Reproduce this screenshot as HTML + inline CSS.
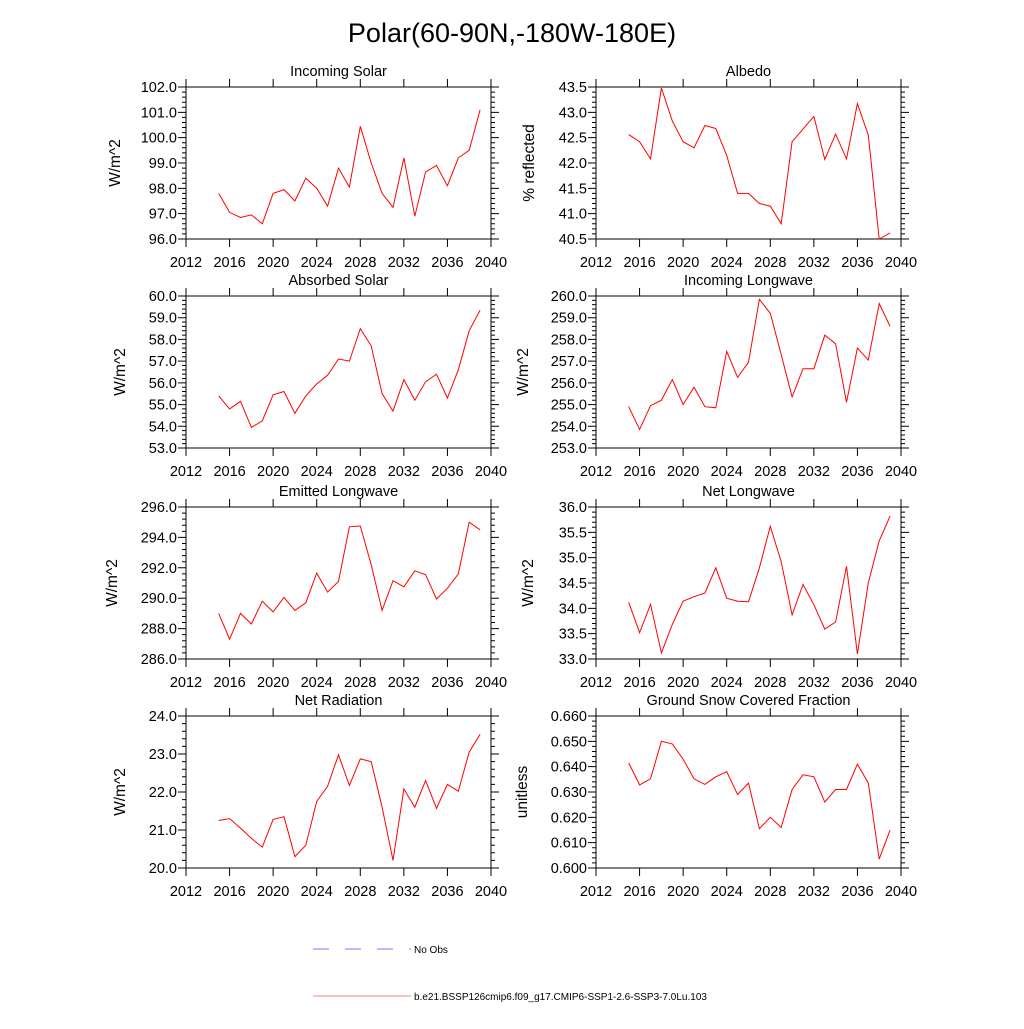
<!DOCTYPE html>
<html><head><meta charset="utf-8"><style>
body{margin:0;background:#fff}
svg text{font-family:"Liberation Sans",sans-serif;fill:#000}
</style></head><body>
<svg id="c" width="1024" height="1024" viewBox="0 0 1024 1024" xmlns="http://www.w3.org/2000/svg">
<text x="512" y="42" font-size="27" text-anchor="middle">Polar(60-90N,-180W-180E)</text>
<g>
<line x1="313" y1="949" x2="411" y2="949" stroke="#7777ff" stroke-width="1" stroke-dasharray="16,16"/>
<text x="414" y="953" font-size="10">No Obs</text>
<line x1="313" y1="996" x2="411" y2="996" stroke="#ff8080" stroke-width="1"/>
<text x="414" y="1000" font-size="10">b.e21.BSSP126cmip6.f09_g17.CMIP6-SSP1-2.6-SSP3-7.0Lu.103</text>
</g>
</svg>
<script>
const years=[2015,2016,2017,2018,2019,2020,2021,2022,2023,2024,2025,2026,2027,2028,2029,2030,2031,2032,2033,2034,2035,2036,2037,2038,2039];
const xTicks=[2012,2016,2020,2024,2028,2032,2036,2040];
const incomingSolar=[97.8,97.05,96.85,96.95,96.6,97.8,97.95,97.5,98.4,98.0,97.3,98.8,98.05,100.45,99.0,97.8,97.25,99.2,96.9,98.65,98.9,98.1,99.2,99.5,101.1];
const albedo=[42.56,42.42,42.08,43.48,42.83,42.42,42.3,42.74,42.68,42.15,41.4,41.4,41.2,41.15,40.8,42.42,42.67,42.92,42.07,42.57,42.08,43.17,42.55,40.5,40.62];
const absorbedSolar=[55.4,54.8,55.15,53.95,54.25,55.45,55.6,54.6,55.4,55.95,56.35,57.1,57.0,58.5,57.7,55.5,54.7,56.15,55.2,56.05,56.4,55.3,56.6,58.4,59.35];
const incomingLW=[254.9,253.85,254.95,255.2,256.15,255.0,255.8,254.9,254.85,257.45,256.25,256.95,259.85,259.2,257.3,255.35,256.65,256.65,258.2,257.8,255.1,257.6,257.05,259.65,258.6];
const emittedLW=[289.0,287.3,289.0,288.3,289.8,289.1,290.05,289.2,289.7,291.65,290.4,291.1,294.7,294.75,292.2,289.2,291.15,290.75,291.8,291.55,289.95,290.65,291.6,295.0,294.5];
const netLW=[34.12,33.52,34.08,33.12,33.68,34.14,34.23,34.3,34.8,34.2,34.14,34.13,34.8,35.62,34.92,33.87,34.47,34.07,33.59,33.73,34.83,33.1,34.5,35.33,35.82];
const netRad=[21.25,21.3,21.05,20.78,20.55,21.28,21.35,20.3,20.6,21.75,22.15,22.98,22.17,22.87,22.8,21.6,20.2,22.08,21.6,22.3,21.57,22.2,22.02,23.05,23.52];
const snow=[0.6415,0.6328,0.6352,0.650,0.649,0.643,0.6352,0.633,0.636,0.638,0.629,0.6335,0.6155,0.620,0.616,0.631,0.6368,0.636,0.626,0.631,0.631,0.641,0.6335,0.6035,0.615];
const ticksIS=[96,97,98,99,100,101,102];
const ticksAl=[40.5,41,41.5,42,42.5,43,43.5];
const ticksAS=[53,54,55,56,57,58,59,60];
const ticksIL=[253,254,255,256,257,258,259,260];
const ticksEL=[286,288,290,292,294,296];
const ticksNL=[33,33.5,34,34.5,35,35.5,36];
const ticksNR=[20,21,22,23,24];
const ticksSn=[0.6,0.61,0.62,0.63,0.64,0.65,0.66];

const NS='http://www.w3.org/2000/svg';
const svg=document.getElementById('c');
function mk(tag,at,parent){const e=document.createElementNS(NS,tag);for(const k in at)e.setAttribute(k,at[k]);(parent||svg).appendChild(e);return e;}
const panels=[
 {t:'Incoming Solar',y:'W/m^2',d:incomingSolar,tk:ticksIS,dec:1,x0:186,top:87,nm:'incoming-solar',yo:66},
 {t:'Albedo',y:'% reflected',d:albedo,tk:ticksAl,dec:1,x0:596,top:87,nm:'albedo',yo:62},
 {t:'Absorbed Solar',y:'W/m^2',d:absorbedSolar,tk:ticksAS,dec:1,x0:186,top:296,nm:'absorbed-solar',yo:61},
 {t:'Incoming Longwave',y:'W/m^2',d:incomingLW,tk:ticksIL,dec:1,x0:596,top:296,nm:'incoming-longwave',yo:68},
 {t:'Emitted Longwave',y:'W/m^2',d:emittedLW,tk:ticksEL,dec:1,x0:186,top:507,nm:'emitted-longwave',yo:69},
 {t:'Net Longwave',y:'W/m^2',d:netLW,tk:ticksNL,dec:1,x0:596,top:507,nm:'net-longwave',yo:63},
 {t:'Net Radiation',y:'W/m^2',d:netRad,tk:ticksNR,dec:1,x0:186,top:716,nm:'net-radiation',yo:61},
 {t:'Ground Snow Covered Fraction',y:'unitless',d:snow,tk:ticksSn,dec:3,x0:596,top:716,nm:'ground-snow-fraction',yo:69}
];
const W=305,H=152;
panels.forEach(p=>{
 const g=mk('g',{});
 
 
 const x1=p.x0+W,y1=p.top+H;
 const ymin=p.tk[0],ymax=p.tk[p.tk.length-1];
 const sx=v=>p.x0+(v-2012)/(2040-2012)*W;
 const sy=v=>y1-(v-ymin)/(ymax-ymin)*H;
 const fr=mk('rect',{x:p.x0,y:p.top,width:W,height:H,fill:'none',stroke:'#000','stroke-width':1},g);
 
 
 let tp='';
 xTicks.forEach(v=>{const x=sx(v);tp+=`M${x},${y1}v8M${x},${p.top}v-8`;
  const t=mk('text',{x:x,y:y1+28,'font-size':14.5,'text-anchor':'middle'},g);t.textContent=v;
  
  });
 const step=p.tk[1]-p.tk[0];
 p.tk.forEach((v,i)=>{const y=sy(v);tp+=`M${p.x0},${y}h-8M${x1},${y}h8`;
  const t=mk('text',{x:p.x0-9,y:y+5,'font-size':14.5,'text-anchor':'end'},g);t.textContent=v.toFixed(p.dec);
  
  
  if(i<p.tk.length-1)for(let k=1;k<5;k++){const yy=sy(v+step*k/5);tp+=`M${p.x0},${yy}h-4M${x1},${yy}h4`;}});
 const tk=mk('path',{d:tp,stroke:'#000','stroke-width':1,fill:'none'},g);
 
 
 const tt=mk('text',{x:p.x0+W/2,y:p.top-11,'font-size':14.5,'text-anchor':'middle'},g);tt.textContent=p.t;
 
 
 const yl=mk('text',{x:0,y:0,'font-size':15.5,'text-anchor':'middle',transform:`translate(${p.x0-p.yo},${p.top+H/2}) rotate(-90)`},g);yl.textContent=p.y;
 
 
 const pts=p.d.map((v,i)=>sx(years[i]).toFixed(1)+','+sy(v).toFixed(1)).join(' ');
 const ln=mk('polyline',{points:pts,fill:'none',stroke:'#ff0000','stroke-width':1},g);
 
 
});
</script>
</body></html>
